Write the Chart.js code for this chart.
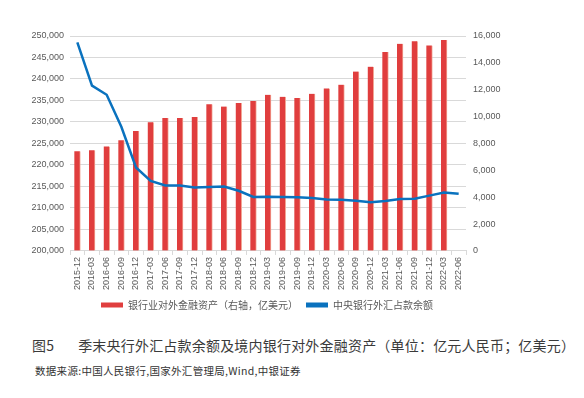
<!DOCTYPE html>
<html lang="zh-CN">
<head>
  <meta charset="UTF-8">
  <title>季末央行外汇占款余额及境内银行对外金融资产</title>
  <script src="https://cdn.jsdelivr.net/npm/chart.js"></script>
  <style>
    body {
      margin: 0;
      padding: 0;
      background: #fff;
      width: 584px;
      height: 398px;
      overflow: hidden;
      font-family: "Noto Sans CJK SC", sans-serif;
    }

    .chart-box {
      position: absolute;
      left: 0;
      top: 0;
      width: 584px;
      height: 325px;
    }

    .title {
      position: absolute;
      left: 32px;
      top: 335px;
      font-size: 14px;
      color: #3a3a3a;
      white-space: nowrap;
      letter-spacing: 0.2px;
    }

    .title span {
      margin-right: 24px;
    }

    .source {
      position: absolute;
      left: 35px;
      top: 363px;
      font-size: 10.5px;
      color: #333;
      white-space: nowrap;
      letter-spacing: 0.3px;
    }
  </style>
</head>
<body>
  <div class="chart-box">
    <canvas id="fxChart" width="584" height="325"></canvas>
  </div>
  <div class="title"><span>图5</span>季末央行外汇占款余额及境内银行对外金融资产（单位：亿元人民币；亿美元）</div>
  <div class="source">数据来源:中国人民银行,国家外汇管理局,Wind,中银证券</div>

  <script>
    // quarters
    const quarters = [
      '2015-12', '2016-03', '2016-06', '2016-09', '2016-12',
      '2017-03', '2017-06', '2017-09', '2017-12',
      '2018-03', '2018-06', '2018-09', '2018-12',
      '2019-03', '2019-06', '2019-09', '2019-12',
      '2020-03', '2020-06', '2020-09', '2020-12',
      '2021-03', '2021-06', '2021-09', '2021-12',
      '2022-03', '2022-06'
    ];

    // 银行业对外金融资产, 亿美元 (right axis)
    const bankAssets = [
      7420, 7500, 7780, 8250, 8930,
      9580, 9900, 9900, 9980,
      10920, 10750, 11020, 11170,
      11620, 11480, 11380, 11700,
      12100, 12380, 13350, 13720,
      14800, 15420, 15600, 15300,
      15700, null
    ];

    // 中央银行外汇占款余额, 亿元人民币 (left axis)
    const pbocFx = [
      248540, 238450, 236330, 228900, 219430,
      216300, 215240, 215200, 214790,
      214900, 215000, 214000, 212560,
      212600, 212550, 212500, 212320,
      212000, 211900, 211700, 211310,
      211640, 212100, 212150, 212870,
      213600, 213300
    ];

    const leftTicks = [200000, 205000, 210000, 215000, 220000, 225000, 230000, 235000, 240000, 245000, 250000];
    const rightTicks = [0, 2000, 4000, 6000, 8000, 10000, 12000, 14000, 16000];

    const gray = '#595959';
    const gridGray = '#d9d9d9';
    const fmt = v => Number(v).toLocaleString('en-US');

    const ctx = document.getElementById('fxChart').getContext('2d');
    const fxChart = new Chart(ctx, {
      type: 'bar',
      data: {
        labels: quarters,
        datasets: [
          {
            type: 'bar',
            label: '银行业对外金融资产（右轴，亿美元）',
            data: bankAssets,
            yAxisID: 'y1',
            backgroundColor: '#E03E3E',
            borderColor: '#F2A695',
            borderWidth: { right: 1, top: 0, left: 0, bottom: 0 },
            borderSkipped: false,
            barThickness: 6,
            order: 1
          },
          {
            type: 'line',
            label: '中央银行外汇占款余额',
            data: pbocFx,
            yAxisID: 'y',
            borderColor: '#0A72BE',
            backgroundColor: '#0A72BE',
            borderWidth: 2.5,
            pointRadius: 0,
            tension: 0,
            order: 0
          }
        ]
      },
      options: {
        responsive: false,
        animation: false,
        layout: {
          padding: { top: 36, left: 0, right: 50, bottom: 5 }
        },
        plugins: {
          tooltip: { enabled: false },
          legend: {
            position: 'bottom',
            labels: {
              boxWidth: 22,
              boxHeight: 5,
              padding: 8,
              color: gray,
              font: { size: 10, family: '"Noto Sans CJK SC", sans-serif' },
              sort: (a, b) => a.datasetIndex - b.datasetIndex,
              generateLabels: chart => {
                const items = Chart.defaults.plugins.legend.labels.generateLabels(chart);
                items.forEach(it => {
                  const ds = chart.data.datasets[it.datasetIndex];
                  it.fillStyle = ds.type === 'line' ? ds.borderColor : ds.backgroundColor;
                  it.lineWidth = 0;
                  it.strokeStyle = 'rgba(0,0,0,0)';
                });
                return items;
              }
            }
          }
        },
        scales: {
          x: {
            offset: true,
            grid: {
              offset: true,
              drawOnChartArea: false,
              drawTicks: true,
              tickLength: 4,
              color: gridGray
            },
            border: { color: gridGray },
            ticks: {
              color: gray,
              font: { size: 9, family: 'Liberation Sans, Arial, sans-serif' },
              minRotation: 90,
              maxRotation: 90,
              autoSkip: false,
              padding: 2
            }
          },
          y: {
            position: 'left',
            min: leftTicks[0],
            max: leftTicks[leftTicks.length - 1],
            afterBuildTicks: s => { s.ticks = leftTicks.map(v => ({ value: v })); },
            afterFit: s => { s.width = 70; },
            grid: { color: gridGray, drawTicks: false },
            border: { display: false },
            ticks: {
              color: gray,
              padding: 6,
              font: { size: 9, family: 'Liberation Sans, Arial, sans-serif' },
              callback: v => fmt(v)
            }
          },
          y1: {
            position: 'right',
            min: rightTicks[0],
            max: rightTicks[rightTicks.length - 1],
            afterBuildTicks: s => { s.ticks = rightTicks.map(v => ({ value: v })); },
            afterFit: s => { s.width = 68; },
            grid: { drawOnChartArea: false, drawTicks: false },
            border: { display: false },
            ticks: {
              color: gray,
              padding: 7,
              font: { size: 9, family: 'Liberation Sans, Arial, sans-serif' },
              callback: v => fmt(v)
            }
          }
        }
      }
    });
  </script>
</body>
</html>
